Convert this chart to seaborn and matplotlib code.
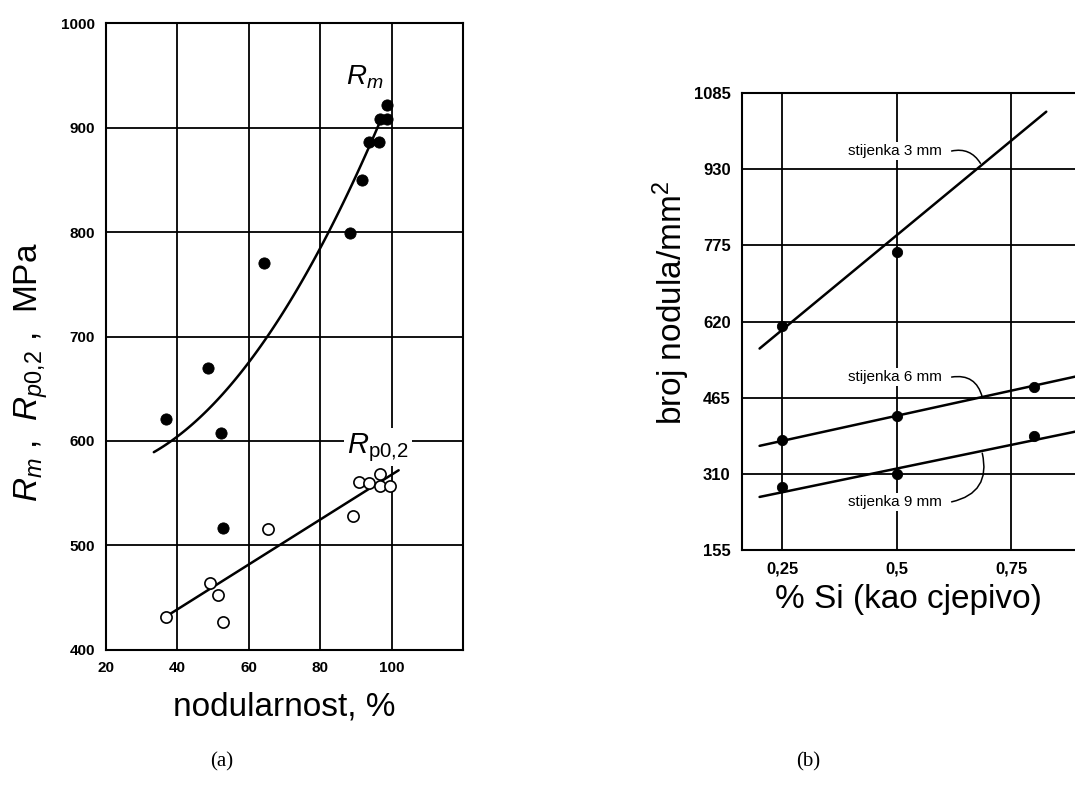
import numpy as np
import matplotlib
matplotlib.use("Agg")
import matplotlib.pyplot as plt
from matplotlib.font_manager import FontProperties
import seaborn as sns

# (a) tensile strength Rm (filled) and yield Rp0,2 (open) vs nodularity
rm_x = [36.8, 48.7, 52.1, 52.7, 64.4, 88.4, 91.8, 93.7, 96.5, 96.8, 98.8, 98.8]
rm_y = [621, 670, 608, 517, 770, 799, 850, 886, 886, 908, 908, 922]
rp_x = [36.8, 49.2, 51.4, 52.8, 65.3, 89.1, 90.8, 93.8, 96.7, 96.8, 99.6]
rp_y = [432, 464, 453, 427, 516, 528, 561, 560, 568, 557, 557]
# points read along the drawn Rm curve and the Rp0,2 line
rm_curve_x = [33.4, 50, 66, 83, 97.4]
rm_curve_y = [587, 640, 703, 800, 913]
rp_line_x = [38.2, 102]
rp_line_y = [435, 572]

# (b) nodule count vs % Si for three wall thicknesses
si_x = [0.25, 0.5, 0.8]
n3_y = [611, 762]
n6_y = [379, 428, 487]
n9_y = [283, 309, 387]
l3_x, l3_y = [0.20, 0.827], [565, 1047]
l6_x, l6_y = [0.20, 0.891], [367, 508]
l9_x, l9_y = [0.20, 0.891], [263, 396]
wall_labels = ["stijenka 3 mm", "stijenka 6 mm", "stijenka 9 mm"]

x_ticks_a = [20, 40, 60, 80, 100]
y_ticks_a = [400, 500, 600, 700, 800, 900, 1000]
x_ticks_b = [0.25, 0.5, 0.75]
x_labels_b = ["0,25", "0,5", "0,75"]
y_ticks_b = [155, 310, 465, 620, 775, 930, 1085]

sns.set_style("white")
plt.rcParams['font.family'] = ['Liberation Sans', 'DejaVu Sans']
plt.rcParams['mathtext.fontset'] = 'custom'
plt.rcParams['mathtext.rm'] = 'Liberation Sans'
plt.rcParams['mathtext.it'] = 'Liberation Sans:italic'
plt.rcParams['text.color'] = 'black'
plt.rcParams['axes.labelcolor'] = 'black'
plt.rcParams['xtick.color'] = 'black'
plt.rcParams['ytick.color'] = 'black'

fig = plt.figure(figsize=(10.75, 7.89), dpi=100)
ax1 = fig.add_axes([0.0986, 0.1762, 0.332, 0.7946])
ax2 = fig.add_axes([0.69, 0.3029, 0.3105, 0.5792])

# ---- panel (a)
ax1.set_xlim(20, 120)
ax1.set_ylim(400, 1000)
ax1.set_xticks(x_ticks_a + [120])
ax1.set_xticklabels([str(t) for t in x_ticks_a] + [""])
ax1.set_yticks(y_ticks_a)
ax1.grid(True, color='black', lw=1.3)
ax1.set_axisbelow(True)

cx = np.linspace(rm_curve_x[0], rm_curve_x[-1], 100)
cy = np.polyval(np.polyfit(rm_curve_x, rm_curve_y, 2), cx)
sns.lineplot(x=cx, y=cy, ax=ax1, color='black', lw=1.8)
sns.lineplot(x=rp_line_x, y=rp_line_y, ax=ax1, color='black', lw=1.8)
sns.scatterplot(x=rm_x, y=rm_y, ax=ax1, color='black', s=65, edgecolor='black', zorder=3)
sns.scatterplot(x=rp_x, y=rp_y, ax=ax1, facecolor='white', s=65, edgecolor='black',
                linewidth=1.2, zorder=3)

ax1.text(92.5, 935, r"$R_m$", fontsize=20, ha='center', va='bottom')
ax1.text(96.2, 594, r"$R_{\mathrm{p0{,}2}}$", fontsize=21, ha='center', va='center',
         bbox=dict(facecolor='white', edgecolor='none', pad=2))

ax1.set_xlabel("nodularnost, %", fontsize=24, labelpad=12)
ax1.set_ylabel(r"$R_m$ ,  $R_{p0{,}2}$ ,  MPa", fontsize=24)
ax1.yaxis.set_label_coords(-0.158, (650 - 372) / 627)

# ---- panel (b)
ax2.set_xlim(0.161, 0.891)
ax2.set_ylim(155, 1085)
ax2.set_xticks(x_ticks_b)
ax2.set_xticklabels(x_labels_b)
ax2.set_yticks(y_ticks_b)
ax2.grid(True, color='black', lw=1.3)
ax2.set_axisbelow(True)
ax2.spines['right'].set_visible(False)

for lx, ly in [(l3_x, l3_y), (l6_x, l6_y), (l9_x, l9_y)]:
    sns.lineplot(x=lx, y=ly, ax=ax2, color='black', lw=1.8)
sns.scatterplot(x=si_x[:2], y=n3_y, ax=ax2, color='black', s=55, edgecolor='black', zorder=3)
sns.scatterplot(x=si_x, y=n6_y, ax=ax2, color='black', s=55, edgecolor='black', zorder=3)
sns.scatterplot(x=si_x, y=n9_y, ax=ax2, color='black', s=55, edgecolor='black', zorder=3)

# wall labels with curved leader lines to their lines
label_pos = [(0.497, 967), (0.497, 507), (0.497, 253)]
leader_to = [(0.683, 942), (0.687, 466), (0.687, 352)]
leader_rad = [-0.35, -0.45, 0.5]
for txt, (tx, ty), (px, py), rad in zip(wall_labels, label_pos, leader_to, leader_rad):
    ax2.text(tx, ty, txt, fontsize=11, ha='center', va='center',
             bbox=dict(facecolor='white', edgecolor='none', pad=1.5), zorder=4)
    ax2.annotate("", xy=(px, py), xytext=(0.62, ty),
                 arrowprops=dict(arrowstyle='-', color='black', lw=1.1,
                                 shrinkA=0, shrinkB=0,
                                 connectionstyle=f"arc3,rad={rad}"))

ax2.set_xlabel("% Si (kao cjepivo)", fontsize=24, labelpad=6)
ax2.set_ylabel(r"broj nodula/mm$^2$", fontsize=24)
ax2.yaxis.set_label_coords(-0.15, (550 - 303) / 457)

for ax, tsize in ((ax1, 11), (ax2, 12)):
    for sp in ax.spines.values():
        sp.set_color('black')
        sp.set_linewidth(1.5)
    ax.tick_params(length=0, pad=8)
    fp = FontProperties(family=['Liberation Sans Narrow', 'Liberation Sans'],
                        weight='bold', size=tsize)
    for t in ax.get_xticklabels() + ax.get_yticklabels():
        t.set_fontproperties(fp)

fig.text(222 / 1075, 1 - 762 / 789, "(a)", fontsize=15, ha='center', va='center',
         family=['Liberation Serif', 'DejaVu Serif'])
fig.text(808 / 1075, 1 - 762 / 789, "(b)", fontsize=15, ha='center', va='center',
         family=['Liberation Serif', 'DejaVu Serif'])

fig.savefig("out.png", dpi=100)
